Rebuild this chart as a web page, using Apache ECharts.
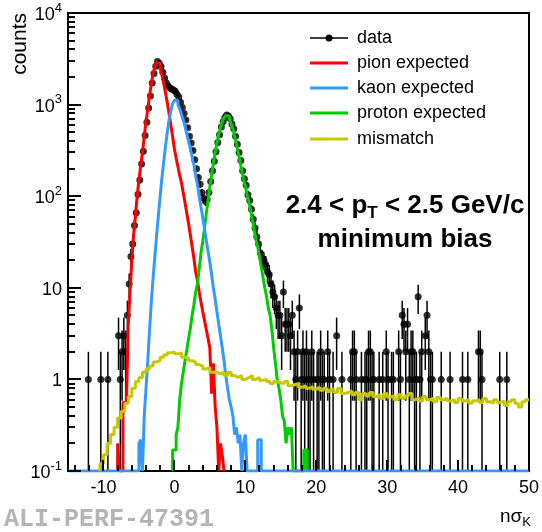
<!DOCTYPE html>
<html>
<head>
<meta charset="utf-8">
<script src="https://cdn.jsdelivr.net/npm/echarts@6/dist/echarts.min.js"></script>
<style>
  html, body { margin: 0; padding: 0; background: #fff; }
  #graph { width: 542px; height: 532px; }
</style>
</head>
<body>
<div id="graph"></div>
<script>
const FONT = '"Liberation Sans", Arial, Helvetica, sans-serif';

// data: counts in 0.25 wide bins, first bin starts at -13
const dataStart = -13;
const dataBin = 0.25;
const dataCounts = [
  0, 0, 0, 1,   0, 0, 0, 0,   0, 0, 1, 0,   0, 0, 1, 0,   0, 0, 0, 0,
  3, 1, 2, 3,   2, 5, 11, 22,   30, 48, 66, 105,   150, 225, 310, 460,
  640, 920, 1240, 1720,   2180, 2620, 2950, 2820,   2600, 2250, 1950, 1720,
  1600, 1520, 1480, 1440,   1400, 1300, 1210, 1060,   930, 800, 680, 560,
  450, 380, 315, 250,   200, 160, 135, 110,   95, 88, 92, 110,
  145, 190, 240, 305,   385, 470, 570, 650,   725, 770, 750, 700,
  615, 545, 450, 370,   300, 245, 190, 155,   132, 104, 90, 72,
  56, 45, 36, 30,   24, 21, 20, 18,   15, 14, 11, 9,   8, 6, 5, 5,
  3, 9, 4, 4,   4, 3, 5, 2,   1, 2, 6, 1,   2, 1, 2, 1,   1, 2, 1, 0,
  1, 1, 2, 1,   1, 0, 2, 1,   0, 1, 0, 3,   0, 0, 1, 0,   0, 0, 0, 1,
  2, 2, 1, 0,   0, 1, 0, 1,   1, 2, 2, 1,   1, 0, 0, 1,   0, 1, 0, 2,
  1, 0, 1, 1,   0, 0, 2, 1,   5, 4, 2, 4,   1, 2, 2, 1,   1, 8, 1, 2,
  0, 3, 5, 2,   1, 1, 0, 0,   0, 0, 1, 0,   0, 0, 0, 1,   0, 0, 0, 0,
  0, 0, 1, 0,   0, 1, 0, 0,   0, 0, 0, 2,   2, 1, 0, 0,   0, 0, 0, 0,
  0, 0, 0, 1,   0, 0, 0, 1,   0, 0, 0, 0,   0, 0, 0, 0,   0, 0, 0, 0
];

// expected templates, 0.25 wide bins
const histBin = 0.25;
const pionStart = -8;
const pion = [
  0.2, 0.1, 0.1, 0.56, 0.56, 0.6, 4, 9, 20, 38, 60, 100, 150, 215, 300, 450,
  650, 900, 1250, 1700, 2200, 2600, 2900, 2800, 2500, 2100, 1700, 1350, 1050, 800,
  600, 450, 330, 260, 210, 170, 140, 110, 85, 65, 50, 38, 28, 21, 15, 12,
  9, 7, 5.5, 4.4, 3.5, 2.8, 2.2, 0.7, 1.5, 0.5, 0.3, 0.1, 0.2, 0.15
];
const kaonStart = -5;
const kaon = [
  0.2, 0.22, 0.1, 0.4, 0.8, 1.6, 3.5, 7, 13, 22, 38, 62, 100, 160, 240, 350,
  500, 680, 860, 1020, 1120, 1100, 1000, 900, 780, 680, 580, 480, 400, 330,
  270, 220, 170, 135, 100, 76, 58, 44, 33, 25, 19, 14, 10, 7.5, 5.5, 4,
  3, 2.2, 1.6, 1.1, 0.8, 0.6, 0.5, 0.4, 0.25, 0.3, 0.2, 0.25, 0.1, 0.2,
  0.25, 0.1, 0.1, 0.1, 0.1, 0.1, 0.1, 0.22, 0.22, 0.1
];
const protonStart = -0.25;
const proton = [
  0.17, 0.17, 0.25, 0.3, 0.6, 0.9, 1.2, 1.6, 2.1, 2.8, 3.6, 5, 6.5, 9, 11, 16,
  24, 32, 45, 65, 90, 125, 170, 230, 300, 380, 470, 560, 650, 720,
  760, 750, 700, 620, 540, 450, 370, 300, 240, 190, 155, 130, 105, 88, 70, 55,
  43, 34, 28, 22, 17, 13, 10, 8, 6, 5, 3.5, 2.2, 1.5, 1.0,
  0.8, 0.6, 0.4, 0.35, 0.2, 0.3, 0.25, 0.3, 0.1, 0.1, 0.1, 0.1, 0.1, 0.1, 0.17, 0.17
];
// mismatch template, 0.5 wide bins
const mismatchStart = -10.5;
const mismatchBin = 0.5;
const mismatch = [
  0.12, 0.15, 0.2, 0.25, 0.3, 0.38, 0.45, 0.55, 0.65, 0.8, 0.95, 1.05, 1.2, 1.3, 1.4, 1.55,
  1.6, 1.75, 1.85, 1.95, 2.0, 1.9, 1.95, 1.75, 1.7, 1.6, 1.55, 1.45, 1.4, 1.3, 1.35, 1.2,
  1.2, 1.15, 1.2, 1.1, 1.2, 1.1, 1.05, 1.1, 1.0, 1.05, 1.1, 1.0, 1.05, 0.98, 1.0, 0.95,
  0.9, 0.95, 0.92, 0.9, 0.95, 0.85, 0.88, 0.9, 0.82, 0.85, 0.8, 0.83, 0.78, 0.82, 0.76, 0.8,
  0.74, 0.78, 0.72, 0.8, 0.7, 0.72, 0.75, 0.68, 0.72, 0.6, 0.7, 0.66, 0.72, 0.65, 0.68, 0.62,
  0.7, 0.64, 0.66, 0.6, 0.68, 0.62, 0.66, 0.7, 0.6, 0.63, 0.58, 0.65, 0.6, 0.62, 0.57, 0.64,
  0.6, 0.62, 0.58, 0.6, 0.56, 0.62, 0.58, 0.6, 0.55, 0.58, 0.6, 0.56, 0.62, 0.57, 0.55, 0.6,
  0.56, 0.58, 0.52, 0.57, 0.6, 0.55, 0.5, 0.57, 0.6
];

const xMajorTicks = [-10, 0, 10, 20, 30, 40, 50];
const xMinorTicks = [-14, -12, -8, -6, -4, -2, 2, 4, 6, 8, 12, 14, 16, 18, 22, 24, 26, 28,
  32, 34, 36, 38, 42, 44, 46, 48];
const yMajorTicks = [0.1, 1, 10, 100, 1000, 10000];
const yMinorTicks = [0.2, 0.3, 0.4, 0.5, 0.6, 0.7, 0.8, 0.9, 2, 3, 4, 5, 6, 7, 8, 9,
  20, 30, 40, 50, 60, 70, 80, 90, 200, 300, 400, 500, 600, 700, 800, 900,
  2000, 3000, 4000, 5000, 6000, 7000, 8000, 9000];

const X_MIN = -15, X_MAX = 50, Y_MIN = 0.1, Y_MAX = 10000;

function stepPoints(start, bin, vals, fullRange) {
  const pts = [];
  if (fullRange) pts.push([X_MIN, Y_MIN]);
  pts.push([start, Y_MIN]);
  vals.forEach((v, i) => {
    const y = Math.max(v, Y_MIN);
    pts.push([start + i * bin, y]);
    pts.push([start + (i + 1) * bin, y]);
  });
  const end = start + vals.length * bin;
  if (end < X_MAX) pts.push([end, Y_MIN]);
  if (fullRange && end < X_MAX) pts.push([X_MAX, Y_MIN]);
  return pts;
}

const dotData = [];
const errData = [];
dataCounts.forEach((n, i) => {
  if (n <= 0) return;
  const x = dataStart + (i + 0.5) * dataBin;
  const e = Math.sqrt(n);
  dotData.push([x, n]);
  errData.push([x, Math.max(n - e, Y_MIN), n + e]);
});

function histSeries(name, color, pts) {
  return {
    name: name, type: 'line', data: pts, showSymbol: false, symbol: 'none',
    lineStyle: { color: color, width: 3 }, itemStyle: { color: color },
    animation: false, z: 3
  };
}

var myChart = echarts.init(document.getElementById('graph'));

const option = {
  animation: false,
  grid: { left: 68, right: 11, top: 13, bottom: 61, show: true, borderColor: '#000', borderWidth: 2 },
  xAxis: {
    type: 'value', min: X_MIN, max: X_MAX, interval: 5,
    axisLine: { show: true, onZero: false, lineStyle: { color: '#000', width: 2 } },
    axisTick: { show: false },
    splitLine: { show: false },
    axisLabel: {
      color: '#000', fontSize: 18, fontFamily: FONT, margin: 8,
      showMinLabel: true, showMaxLabel: true,
      formatter: v => (v % 10 === 0 ? String(v) : '')
    }
  },
  yAxis: {
    type: 'log', logBase: 10, min: Y_MIN, max: Y_MAX,
    axisLine: { show: true, onZero: false, lineStyle: { color: '#000', width: 2 } },
    axisTick: { show: false },
    splitLine: { show: false },
    axisLabel: {
      margin: 6, color: '#000',
      formatter: v => {
        const e = Math.round(Math.log10(v));
        if (e === 0) return '{b|1}';
        if (e === 1) return '{b|10}';
        return '{b|10}{s|' + e + '}';
      },
      rich: {
        b: { fontSize: 18, fontFamily: FONT, color: '#000', padding: [4, 0, 0, 0] },
        s: { fontSize: 13, fontFamily: FONT, color: '#000', padding: [0, 0, 10, 0] }
      }
    }
  },
  series: [
    {
      name: 'dataErr', type: 'custom', data: errData, z: 2,
      renderItem: (params, api) => {
        const lo = api.coord([api.value(0), api.value(1)]);
        const hi = api.coord([api.value(0), api.value(2)]);
        return {
          type: 'line',
          shape: { x1: lo[0], y1: lo[1], x2: hi[0], y2: hi[1] },
          style: { stroke: '#000', lineWidth: 1.5 }
        };
      }
    },
    {
      name: 'data', type: 'scatter', data: dotData, symbol: 'circle', symbolSize: 7,
      itemStyle: { color: '#000' }, z: 2
    },
    histSeries('pion expected', '#ff0000', stepPoints(pionStart, histBin, pion, false)),
    histSeries('proton expected', '#00cc00', stepPoints(protonStart, histBin, proton, false)),
    histSeries('kaon expected', '#3399ff', stepPoints(kaonStart, histBin, kaon, true)),
    histSeries('mismatch', '#c8c800', stepPoints(mismatchStart, mismatchBin, mismatch, false)),
    {
      name: 'yTicks', type: 'custom', z: 5,
      data: yMajorTicks.map(v => [X_MIN, v, 13]).concat(yMinorTicks.map(v => [X_MIN, v, 7])),
      renderItem: (params, api) => {
        const c = api.coord([api.value(0), api.value(1)]);
        const y = Math.round(c[1]);
        return {
          type: 'line',
          shape: { x1: c[0], y1: y, x2: c[0] + api.value(2), y2: y },
          style: { stroke: '#000', lineWidth: 2 }
        };
      }
    },
    {
      name: 'xTicks', type: 'custom', z: 5,
      data: xMajorTicks.map(v => [v, Y_MIN, 11]).concat(xMinorTicks.map(v => [v, Y_MIN, 6])),
      renderItem: (params, api) => {
        const c = api.coord([api.value(0), api.value(1)]);
        const x = Math.round(c[0]);
        return {
          type: 'line',
          shape: { x1: x, y1: c[1], x2: x, y2: c[1] - api.value(2) },
          style: { stroke: '#000', lineWidth: 2 }
        };
      }
    }
  ],
  graphic: [
    {
      type: 'text', x: 20, y: 13, rotation: Math.PI / 2,
      style: { text: 'counts', font: '21px ' + FONT, fill: '#000', align: 'right', verticalAlign: 'middle', textAlign: 'right', textVerticalAlign: 'middle' }
    },
    {
      type: 'text', x: 531, y: 517,
      style: {
        text: '{n|nσ}{k|K}', align: 'right', verticalAlign: 'middle', textAlign: 'right', textVerticalAlign: 'middle',
        rich: {
          n: { fontSize: 19, fontFamily: FONT, fill: '#000', color: '#000' },
          k: { fontSize: 13, fontFamily: FONT, fill: '#000', color: '#000', padding: [10, 0, 0, 0] }
        }
      }
    },
    {
      type: 'text', x: 4, y: 520,
      style: { text: 'ALI-PERF-47391', font: 'bold 25px "Liberation Mono", "Courier New", monospace', fill: '#b4b4b4', align: 'left', verticalAlign: 'middle', textAlign: 'left', textVerticalAlign: 'middle' }
    },
    {
      type: 'text', x: 405, y: 206,
      style: {
        text: '{t|2.4 < p}{s|T}{t| < 2.5 GeV/c}', align: 'center', verticalAlign: 'middle', textAlign: 'center', textVerticalAlign: 'middle',
        rich: {
          t: { fontSize: 26, fontWeight: 'bold', fontFamily: FONT, fill: '#000', color: '#000' },
          s: { fontSize: 17, fontWeight: 'bold', fontFamily: FONT, fill: '#000', color: '#000', padding: [14, 0, 0, 0] }
        }
      }
    },
    {
      type: 'text', x: 405, y: 240,
      style: { text: 'minimum bias', font: 'bold 26px ' + FONT, fill: '#000', align: 'center', verticalAlign: 'middle', textAlign: 'center', textVerticalAlign: 'middle' }
    },
    // legend
    { type: 'line', shape: { x1: 310, y1: 38, x2: 348, y2: 38 }, style: { stroke: '#000', lineWidth: 1.5 } },
    { type: 'circle', shape: { cx: 329, cy: 38, r: 3.5 }, style: { fill: '#000' } },
    { type: 'line', shape: { x1: 310, y1: 63, x2: 348, y2: 63 }, style: { stroke: '#ff0000', lineWidth: 3 } },
    { type: 'line', shape: { x1: 310, y1: 88, x2: 348, y2: 88 }, style: { stroke: '#3399ff', lineWidth: 3 } },
    { type: 'line', shape: { x1: 310, y1: 113, x2: 348, y2: 113 }, style: { stroke: '#00cc00', lineWidth: 3 } },
    { type: 'line', shape: { x1: 310, y1: 139, x2: 348, y2: 139 }, style: { stroke: '#c8c800', lineWidth: 3 } },
    { type: 'text', x: 357, y: 38, style: { text: 'data', font: '18px ' + FONT, fill: '#000', verticalAlign: 'middle', textVerticalAlign: 'middle' } },
    { type: 'text', x: 357, y: 63, style: { text: 'pion expected', font: '18px ' + FONT, fill: '#000', verticalAlign: 'middle', textVerticalAlign: 'middle' } },
    { type: 'text', x: 357, y: 88, style: { text: 'kaon expected', font: '18px ' + FONT, fill: '#000', verticalAlign: 'middle', textVerticalAlign: 'middle' } },
    { type: 'text', x: 357, y: 113, style: { text: 'proton expected', font: '18px ' + FONT, fill: '#000', verticalAlign: 'middle', textVerticalAlign: 'middle' } },
    { type: 'text', x: 357, y: 139, style: { text: 'mismatch', font: '18px ' + FONT, fill: '#000', verticalAlign: 'middle', textVerticalAlign: 'middle' } }
  ]
};

myChart.setOption(option);
</script>
</body>
</html>
